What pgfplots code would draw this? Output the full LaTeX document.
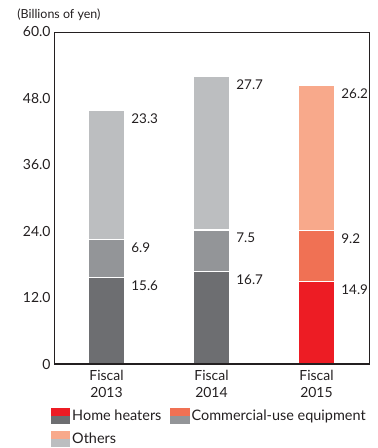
\documentclass[border=0pt]{standalone}
\usepackage{pgfplots}
\pgfplotsset{compat=1.18}
\usepackage{pgfplotstable}
\usepackage{fontspec}
\setmainfont{Lato}
\definecolor{darkg}{HTML}{6D6E71}
\definecolor{medg}{HTML}{939598}
\definecolor{lightg}{HTML}{BCBEC0}
\definecolor{hred}{HTML}{ED1C24}
\definecolor{horange}{HTML}{F07154}
\definecolor{hsalmon}{HTML}{F8A98B}
\definecolor{txt}{HTML}{231F20}

\pgfplotstableread{
x home comm other
0 15.6 6.9 23.3
1 16.7 7.5 27.7
}\graydata
\pgfplotstableread{
x home comm other
2 14.9 9.2 26.2
}\reddata

\begin{document}
\begin{tikzpicture}
\begin{axis}[
  name=ax,
  scale only axis,
  width=315bp, height=332bp,
  xmin=-0.5, xmax=2.5,
  ymin=0, ymax=60,
  ytick={0,12,24,36,48,60},
  yticklabels={0,12.0,24.0,36.0,48.0,60.0},
  xtick={0,1,2},
  xticklabels={{Fiscal\\2013},{Fiscal\\2014},{Fiscal\\2015}},
  x tick label style={align=center, font=\fontsize{14}{17}\selectfont, text=txt, inner sep=3bp, yshift=-3bp},
  y tick label style={font=\fontsize{14}{16}\selectfont, text=txt},
  /pgf/number format/assume math mode=true,
  major tick length=0pt,
  axis line style={line width=0.8bp, draw=txt},
  clip=false,
  ybar, bar shift=0pt, bar width=37bp,
  every axis plot/.append style={draw=white, line width=1.2bp},
  nodes near coords,
  point meta=explicit symbolic,
  every node near coord/.append style={anchor=west, xshift=21bp, yshift=-8bp,
     font=\fontsize{13.5}{14}\selectfont, text=txt, draw=none},
  legend columns=2,
  legend style={draw=none, fill=none, at={(axis description cs:-0.01,-0.132)}, anchor=north west,
    inner sep=0pt, row sep=7bp, font=\fontsize{14.5}{16}\selectfont, text=txt,
    /tikz/every even column/.append style={column sep=7bp}},
  legend cell align=left,
]
\addplot[fill=lightg, forget plot] table[x=x, y expr=\thisrow{home}+\thisrow{comm}+\thisrow{other}, meta=other] {\graydata};
\addplot[fill=medg, forget plot] table[x=x, y expr=\thisrow{home}+\thisrow{comm}, meta=comm] {\graydata};
\addplot[fill=darkg, forget plot] table[x=x, y=home, meta=home] {\graydata};
\addplot[fill=hsalmon, forget plot] table[x=x, y expr=\thisrow{home}+\thisrow{comm}+\thisrow{other}, meta=other] {\reddata};
\addplot[fill=horange, forget plot] table[x=x, y expr=\thisrow{home}+\thisrow{comm}, meta=comm] {\reddata};
\addplot[fill=hred, forget plot] table[x=x, y=home, meta=home] {\reddata};
\draw[line width=1.8bp, draw=txt] (rel axis cs:0,0) -- (rel axis cs:1,0);
\node[anchor=west, font=\fontsize{12.5}{14}\selectfont, text=txt, inner sep=0pt] at (axis description cs:-0.117,1.051) {(Billions of yen)};
\addlegendimage{legend image code/.code={\fill[hred] (0bp,0bp) rectangle (18bp,7.5bp); \fill[darkg] (0bp,-7.5bp) rectangle (18bp,0bp);}}
\addlegendentry{Home heaters}
\addlegendimage{legend image code/.code={\fill[horange] (0bp,0bp) rectangle (18bp,7.5bp); \fill[medg] (0bp,-7.5bp) rectangle (18bp,0bp);}}
\addlegendentry{Commercial-use equipment}
\addlegendimage{legend image code/.code={\fill[hsalmon] (0bp,0bp) rectangle (18bp,7.5bp); \fill[lightg] (0bp,-7.5bp) rectangle (18bp,0bp);}}
\addlegendentry{Others}
\end{axis}
\pgfresetboundingbox
\path ([xshift=-54bp,yshift=-84bp]ax.south west) rectangle ([xshift=9bp,yshift=32bp]ax.north east);
\end{tikzpicture}
\end{document}
